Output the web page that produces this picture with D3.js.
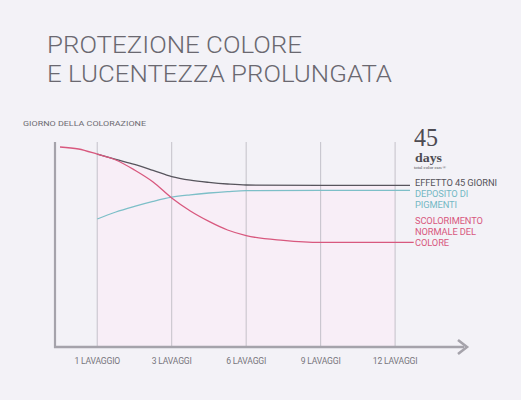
<!DOCTYPE html>
<html lang="en">
<head>
<meta charset="UTF-8">
<title>Protezione colore</title>
<script src="https://d3js.org/d3.v7.min.js"></script>
<style>
  html, body { margin: 0; padding: 0; background: #f3f2f7; }
  svg { display: block; }
  text { font-family: Roboto, "Liberation Sans", sans-serif; }
  text.serif { font-family: "Liberation Serif", "DejaVu Serif", serif; }
</style>
</head>
<body>
<svg id="chart" width="521" height="400"></svg>
<script>
// wash steps shown on the x axis
const tickLabels = ["1 LAVAGGIO", "3 LAVAGGI", "6 LAVAGGI", "9 LAVAGGI", "12 LAVAGGI"];

// curve sample positions (in tick steps, 0 = first tick) and levels (0-100)
const stepsRed = [-0.5, -0.25, 0, 0.25, 0.5, 0.75, 1, 1.25, 1.5, 1.75, 2, 2.5, 3, 4, 4.25];
const redLevels = [100, 99, 96.4, 93.5, 88.5, 82.5, 74.5, 68, 62.8, 58.5, 55.7, 53.3, 52.3, 52.3, 52.3];

const stepsDark = [0, 0.25, 0.5, 0.75, 1, 1.25, 1.5, 1.75, 2, 3, 4, 4.2];
const darkLevels = [96.4, 93.8, 91.3, 88.3, 85.2, 83.4, 82.3, 81.5, 81, 80.8, 80.8, 80.8];

const stepsTeal = [0, 0.25, 0.5, 0.75, 1, 1.25, 1.5, 1.75, 2, 3, 4, 4.2];
const tealLevels = [64, 67.5, 70.3, 72.8, 74.9, 76.1, 77, 77.7, 78.2, 78.3, 78.3, 78.3];

const series = [
  {name: "dark", steps: stepsDark, values: darkLevels, color: "#57555d"},
  {name: "teal", steps: stepsTeal, values: tealLevels, color: "#7dbfc8"},
  {name: "red", steps: stepsRed, values: redLevels, color: "#d8587e"}
];

const legend = [
  {lines: ["EFFETTO 45 GIORNI"], color: "#55535a", y: 185.5},
  {lines: ["DEPOSITO DI", "PIGMENTI"], color: "#74b8c4", y: 196.5},
  {lines: ["SCOLORIMENTO", "NORMALE DEL", "COLORE"], color: "#d8587e", y: 223.5}
];

const svg = d3.select("#chart");

const x = d3.scaleLinear().domain([-0.5, 4.2]).range([60, 410]);
const y = d3.scaleLinear().domain([0, 100]).range([347, 147]);
const plotTop = 142, plotBottom = 347, axisLeft = 55;

// title
const title = svg.append("g").attr("fill", "#6a6870").attr("font-weight", 300);
title.append("text").attr("x", 47).attr("y", 53).attr("font-size", 23)
  .attr("textLength", 255).attr("lengthAdjust", "spacingAndGlyphs")
  .text("PROTEZIONE COLORE");
title.append("text").attr("x", 47).attr("y", 82).attr("font-size", 23)
  .attr("textLength", 345).attr("lengthAdjust", "spacingAndGlyphs")
  .text("E LUCENTEZZA PROLUNGATA");

svg.append("text").attr("x", 23).attr("y", 126).attr("font-size", 8)
  .attr("fill", "#6e6c73")
  .attr("textLength", 123).attr("lengthAdjust", "spacingAndGlyphs")
  .text("GIORNO DELLA COLORAZIONE");

// pink band under the upper curve
const fillIdx = stepsDark.map((s, i) => i).filter(i => stepsDark[i] <= 4);
const area = d3.area()
  .x(i => x(stepsDark[i]))
  .y0(plotBottom)
  .y1(i => y(darkLevels[i]))
  .curve(d3.curveMonotoneX);
svg.append("path")
  .datum(fillIdx)
  .attr("d", area)
  .attr("fill", "#f8eef7");

// gridlines
svg.append("g").selectAll("line")
  .data(tickLabels)
  .join("line")
  .attr("x1", (d, i) => x(i)).attr("x2", (d, i) => x(i))
  .attr("y1", plotTop).attr("y2", plotBottom)
  .attr("stroke", "#b8b6be").attr("stroke-width", 0.8);

// axes
svg.append("line").attr("x1", axisLeft).attr("x2", axisLeft)
  .attr("y1", plotTop).attr("y2", plotBottom + 1)
  .attr("stroke", "#a5a3ab").attr("stroke-width", 2.2);
svg.append("line").attr("x1", axisLeft - 1).attr("x2", 464)
  .attr("y1", plotBottom).attr("y2", plotBottom)
  .attr("stroke", "#a5a3ab").attr("stroke-width", 2.6);
svg.append("path")
  .attr("d", `M458,${plotBottom - 7} L467,${plotBottom} L458,${plotBottom + 7}`)
  .attr("fill", "none").attr("stroke", "#a5a3ab").attr("stroke-width", 2.6);

// tick labels
svg.append("g").selectAll("text")
  .data(tickLabels)
  .join("text")
  .attr("x", (d, i) => x(i)).attr("y", 364)
  .attr("text-anchor", "middle")
  .attr("font-size", 8.6).attr("letter-spacing", -0.2)
  .attr("fill", "#77757c")
  .text(d => d);

// curves
const line = d3.line().curve(d3.curveMonotoneX);
svg.append("g").selectAll("path")
  .data(series)
  .join("path")
  .attr("d", s => line(s.values.map((v, i) => [x(s.steps[i]), y(v)])))
  .attr("fill", "none")
  .attr("stroke", s => s.color)
  .attr("stroke-width", 1.3);

// legend labels
const lg = svg.append("g");
legend.forEach(l => {
  l.lines.forEach((t, j) => {
    lg.append("text").attr("x", 415).attr("y", l.y + j * 11.3)
      .attr("font-size", 9.3).attr("fill", l.color)
      .attr("letter-spacing", -0.1)
      .text(t);
  });
});

// 45 days logo
const logo = svg.append("g").attr("fill", "#4d4b52");
logo.append("text").attr("class", "serif").attr("x", 414).attr("y", 146).attr("font-size", 25)
  .attr("textLength", 24).attr("lengthAdjust", "spacingAndGlyphs").text("45");
logo.append("text").attr("class", "serif").attr("x", 415).attr("y", 161.5).attr("font-size", 12)
  .attr("font-weight", "bold")
  .attr("textLength", 27).attr("lengthAdjust", "spacingAndGlyphs").text("days");
logo.append("text").attr("class", "serif").attr("x", 414).attr("y", 168.5).attr("font-size", 4.6)
  .attr("textLength", 32).attr("lengthAdjust", "spacingAndGlyphs").text("total color care®");
</script>
</body>
</html>
